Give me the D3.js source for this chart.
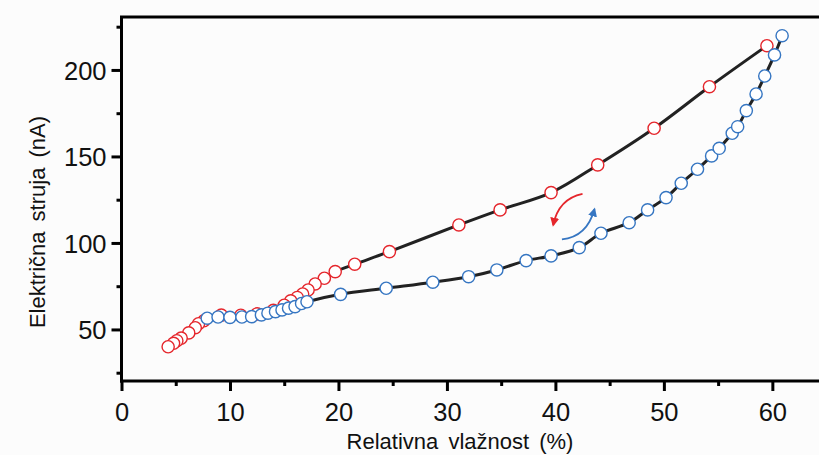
<!DOCTYPE html>
<html><head><meta charset="utf-8">
<script src="https://cdn.jsdelivr.net/npm/d3@7"></script>
<style>
html,body{margin:0;padding:0;background:#fcfcfc;}
svg{display:block;}
text{font-family:"Liberation Sans",Arial,sans-serif;fill:#111;}
</style></head>
<body>
<svg id="chart" width="819" height="455"></svg>
<script>
// Desorption (red), from high to low humidity
const redX = [59.5,54.2,49.1,43.9,39.6,34.9,31.1,24.7,21.5,19.7,18.7,17.85,17.2,16.7,16.2,15.6,15.0,14.0,12.5,11.0,9.2,7.6,7.1,6.8,6.2,5.5,5.1,4.8,4.3];
const redY = [214,190.3,166.3,145.1,129.1,119.1,110.4,95.0,87.7,83.4,79.6,76.3,72.8,70.5,68.5,66.5,64.0,61.0,59.0,58.2,58.3,55.0,53.3,51.0,48.0,45.0,43.5,42.0,40.0];
// Adsorption (blue), from low to high humidity
const blueX = [7.9,8.9,10.0,11.1,12.0,12.9,13.5,14.2,14.8,15.4,16.0,16.6,17.1,20.2,24.4,28.7,32.0,34.6,37.3,39.6,42.2,44.2,46.8,48.5,50.2,51.6,53.1,54.4,55.1,56.3,56.8,57.6,58.5,59.3,60.2,60.9];
const blueY = [56.5,57.2,57.0,57.2,57.4,58.4,59.4,60.3,61.3,62.3,63.2,65.0,66.0,70.3,73.8,77.3,80.5,84.4,89.8,92.5,97.3,105.6,111.7,119.1,126.2,134.5,142.6,150.3,154.7,163.4,167.2,176.5,186.1,196.5,208.7,219.8];
const xTicks = [0,10,20,30,40,50,60];
const xMinor = [5,15,25,35,45,55];
const yTicks = [50,100,150,200];
const yMinor = [25,75,125,175,225];
const xTitle = "Relativna vlažnost (%)";
const yTitle = "Električna struja (nA)";
// arrows: [start, control, end] in data units
const redArrow = [[42.5,128.3],[40.3,125.5],[39.8,110.4]];
const blueArrow = [[40.6,102.1],[42.9,103.5],[43.6,119.5]];

const svg = d3.select("#chart");
const x = d3.scaleLinear().domain([0,64.3]).range([121.5,819]);
const y = d3.scaleLinear().domain([20.2,230.6]).range([381,17]);

const RED = "#e5262c", BLUE = "#3676c2";

// frame: top line
svg.append("line").attr("x1",x(0)-1.5).attr("x2",819).attr("y1",y(230.6)).attr("y2",y(230.6))
  .attr("stroke","#000").attr("stroke-width",3);

// axes
const gx = svg.append("g").attr("transform",`translate(0,${y(20.2)})`)
  .call(d3.axisBottom(x).tickValues(xTicks).tickSize(10).tickSizeOuter(0).tickPadding(6).tickFormat(d3.format("d")));
const gxm = gx.append("g").call(d3.axisBottom(x).tickValues(xMinor).tickSize(5).tickFormat(""));
gxm.select(".domain").remove();
const gy = svg.append("g").attr("transform",`translate(${x(0)},0)`)
  .call(d3.axisLeft(y).tickValues(yTicks).tickSize(10).tickSizeOuter(0).tickPadding(5).tickFormat(d3.format("d")));
const gym = gy.append("g").call(d3.axisLeft(y).tickValues(yMinor).tickSize(5).tickFormat(""));
gym.select(".domain").remove();
svg.selectAll(".domain").attr("stroke","#000").attr("stroke-width",3);
gx.select(".domain").attr("d",`M${x(0)-1.5},0H819`);
gy.select(".domain").attr("d",`M0,${y(20.2)+1.5}V${y(230.6)}`);
svg.selectAll(".tick line").attr("stroke","#000").attr("stroke-width",3);
svg.selectAll(".tick text").style("font-size","25.5px").style("font-family","'Liberation Sans',Arial,sans-serif").attr("fill","#111");
gx.selectAll(".tick text").attr("dy","0.95em");
gy.selectAll(".tick text").attr("dy","0.36em");

// titles
svg.append("text").attr("x",460).attr("y",449).attr("text-anchor","middle")
  .style("font-size","22px").style("word-spacing","4px").text(xTitle);
svg.append("text").attr("transform",`translate(45,222) rotate(-90)`).attr("text-anchor","middle")
  .style("font-size","22px").style("word-spacing","4px").text(yTitle);

// lines
const line = d3.line().x(d=>x(d[0])).y(d=>y(d[1])).curve(d3.curveCatmullRom.alpha(0.5));
const red = redX.map((v,i)=>[v,redY[i]]);
const blue = blueX.map((v,i)=>[v,blueY[i]]);
svg.append("path").attr("d",line(red)).attr("fill","none").attr("stroke","#222").attr("stroke-width",3);
svg.append("path").attr("d",line(blue)).attr("fill","none").attr("stroke","#222").attr("stroke-width",3);

// markers
svg.append("g").selectAll("circle").data(red).join("circle")
  .attr("cx",d=>x(d[0])).attr("cy",d=>y(d[1])).attr("r",6.1)
  .attr("fill","#fff").attr("stroke",RED).attr("stroke-width",1.4);
svg.append("g").selectAll("circle").data(blue).join("circle")
  .attr("cx",d=>x(d[0])).attr("cy",d=>y(d[1])).attr("r",6.1)
  .attr("fill","#fff").attr("stroke",BLUE).attr("stroke-width",1.4);

// arrows
const defs = svg.append("defs");
[["ar",RED],["ab",BLUE]].forEach(([id,c])=>{
  defs.append("marker").attr("id",id).attr("viewBox","0 0 10 10").attr("refX",8).attr("refY",5)
    .attr("markerWidth",5).attr("markerHeight",5).attr("orient","auto")
    .append("path").attr("d","M0,0L10,5L0,10z").attr("fill",c);
});
function arrowPath(a){
  return `M${x(a[0][0])},${y(a[0][1])}Q${x(a[1][0])},${y(a[1][1])} ${x(a[2][0])},${y(a[2][1])}`;
}
svg.append("path").attr("d",arrowPath(redArrow)).attr("fill","none").attr("stroke",RED)
  .attr("stroke-width",1.8).attr("marker-end","url(#ar)");
svg.append("path").attr("d",arrowPath(blueArrow)).attr("fill","none").attr("stroke",BLUE)
  .attr("stroke-width",1.8).attr("marker-end","url(#ab)");
</script>
</body></html>
